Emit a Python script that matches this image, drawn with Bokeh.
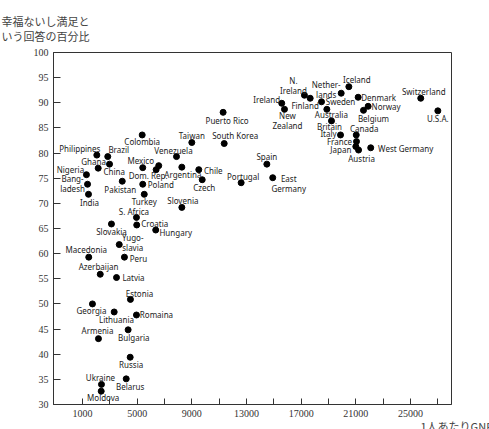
from bokeh.plotting import figure
from bokeh.models import ColumnDataSource, FixedTicker, Title, Range1d
from bokeh.core.properties import value
from bokeh.embed import file_html
from bokeh.resources import INLINE

# ---- data ----
countries = ["Philippines", "Brazil", "Ghana", "China", "Nigeria", "Bang-\nladesh", "India",
             "Pakistan", "Colombia", "Mexico", "Dom. Rep.", "", "Venezuela", "Argentina",
             "Chile", "Czech", "Poland", "Turkey", "Taiwan", "South Korea", "Puerto Rico",
             "Slovenia", "S. Africa", "Croatia", "Hungary", "Slovakia", "Portugal", "Spain",
             "East\nGermany", "Ireland", "New\nZealand", "N.\nIreland", "Finland",
             "Nether-\nlands", "Iceland", "Sweden", "Denmark", "Norway", "Belgium",
             "Australia", "Britain", "Italy", "Canada", "France", "Japan", "Austria",
             "West Germany", "Switzerland", "U.S.A.", "Yugo-\nslavia", "Macedonia", "Peru",
             "Azerbaijan", "Latvia", "Estonia", "Georgia", "Lithuania", "Romaina", "Armenia",
             "Bulgaria", "Russia", "Ukraine", "Belarus", "Moldova"]
gnp_per_capita = [2050, 2850, 2980, 2150, 1290, 1370, 1440,
                  3910, 5370, 5410, 6390, 6580, 7880, 8270,
                  9510, 9760, 5410, 5520, 9000, 11370, 11290,
                  8270, 4950, 4970, 6360, 3120, 12610, 14490,
                  14920, 15580, 15780, 17240, 17660,
                  19930, 20490, 18490, 21170, 21900, 21560,
                  18880, 19220, 19880, 21030, 21050, 21000, 21200,
                  22090, 25750, 27000, 3690, 1460, 4070,
                  2300, 3490, 4510, 1730, 3320, 4950, 2170,
                  4340, 4490, 2390, 4200, 2370]
happy_pct = [79.6, 79.3, 77.8, 77.0, 75.7, 73.8, 71.8,
             74.4, 83.6, 77.1, 76.7, 77.5, 79.3, 77.2,
             76.7, 74.7, 73.8, 71.8, 82.1, 81.9, 88.1,
             69.2, 67.2, 65.7, 64.7, 65.9, 74.1, 77.8,
             75.1, 89.9, 88.7, 91.5, 90.9,
             91.9, 93.2, 90.2, 91.1, 89.3, 88.5,
             88.7, 86.4, 83.6, 83.6, 82.3, 81.3, 80.6,
             81.05, 90.9, 88.4, 61.8, 59.3, 59.3,
             55.9, 55.25, 50.9, 50.0, 48.4, 47.8, 43.1,
             44.85, 39.4, 34.0, 35.1, 32.65]
x_ticks = [1000, 3000, 5000, 7000, 9000, 11000, 13000, 15000, 17000, 19000, 21000, 23000, 25000, 27000]
x_tick_labels = ["1000", "", "5000", "", "9000", "", "13000", "", "17000", "", "21000", "", "25000", ""]
y_ticks = [30, 35, 40, 45, 50, 55, 60, 65, 70, 75, 80, 85, 90, 95, 100]
y_title = "幸福ないし満足と\nいう回答の百分比"
x_title = "1人あたりGNP"

# ---- label layout (screen-pixel offsets from each dot) ----
label_dx = [-17, 11, -16, 16, -16, -15, 1,
            -2, 0, -2, -8, 0, -3, 1,
            14.5, 2, 18, 0, 0, 11, 4,
            1, -2.5, 18, 20, 0, 2, 0,
            16, -15, 3, -11, -5,
            -15, 8, 19, 20.5, 18, 10,
            4.5, -2, -12, 8, -17, -15, 3,
            35, 3, 0, 13.5, -2.5, 14,
            -1.7, 17, 9, -1, 2.3, 20, -1,
            5.7, 1, -1, 4, 2]
label_dy = [-7, -7, -3, 3, -5, -1, 8,
            8, 6.5, -7, 6, 0, -6.5, 7,
            0.5, 7.5, 0, 7.5, -7, -8, 8.5,
            -7, -6, -1.5, 2.5, 8, -6.5, -8,
            6, -4, 11, -10, 7.5,
            -3.5, -7, 0, 0, 0, 8.5,
            5, 6, -1, -6, 0, 3, 8,
            1, -7, 8, -2, -7.5, 1,
            -7.5, 0, -6, 7, 7.7, 0, -8,
            8, 7.5, -7, 7.5, 6.5]

src = ColumnDataSource(dict(x=gnp_per_capita, y=happy_pct, label=countries,
                            dx=label_dx, dy=label_dy))

p = figure(width=489, height=429, output_backend="svg", toolbar_location=None,
           x_range=Range1d(-1120, 28000), y_range=Range1d(30, 100),
           min_border_left=53, min_border_right=38, min_border_top=52, min_border_bottom=24,
           background_fill_color="white", border_fill_color="white")

p.xgrid.grid_line_color = None
p.ygrid.grid_line_color = None
p.outline_line_color = "#333333"
p.outline_line_width = 1

for ax in (p.xaxis[0], p.yaxis[0]):
    ax.axis_line_color = "#333333"
    ax.major_tick_line_color = "#333333"
    ax.major_tick_out = 0
    ax.minor_tick_line_color = None
    ax.major_label_text_font = "Liberation Serif"
    ax.major_label_text_font_size = "10px"
    ax.major_label_text_color = "#333333"

p.xaxis.ticker = FixedTicker(ticks=x_ticks)
p.xaxis.major_label_overrides = {t: l for t, l in zip(x_ticks, x_tick_labels)}
p.xaxis.major_tick_in = 6
p.xaxis.major_label_standoff = 5
p.yaxis.ticker = FixedTicker(ticks=y_ticks)
p.yaxis.major_tick_in = 7
p.yaxis.major_label_standoff = 5

p.scatter("x", "y", source=src, size=6, color="black")
p.text("x", "y", text="label", source=src, x_offset="dx", y_offset="dy",
       text_font=value("Noto Sans"), text_font_size="8px", text_align="center",
       text_baseline="middle", text_color="#222222", text_line_height=0.95)

p.add_layout(Title(text=y_title, align="left", offset=-52, standoff=16,
                   text_font="Noto Sans CJK JP", text_font_size="11px",
                   text_font_style="normal", text_color="#444444",
                   text_line_height=0.95), "above")
p.add_layout(Title(text=x_title, align="left", offset=367, standoff=-8,
                   text_font="Noto Sans CJK JP", text_font_size="11px",
                   text_font_style="normal", text_color="#444444"), "below")

open("out.html", "w").write(file_html(p, INLINE))
